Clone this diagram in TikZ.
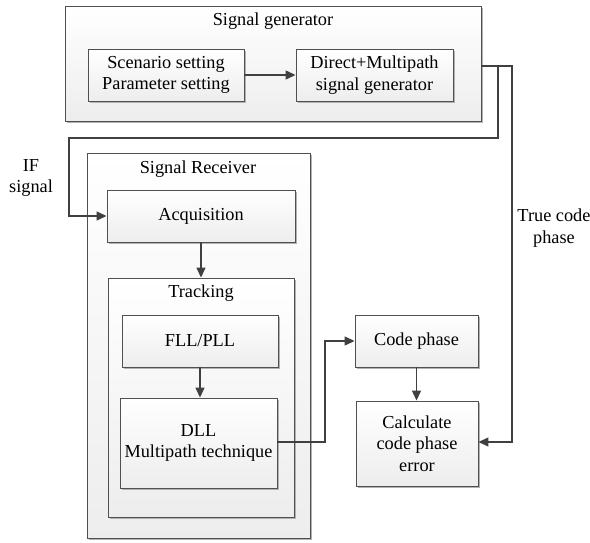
\documentclass[tikz,border=0pt]{standalone}
\usepackage{fontspec}
\setmainfont{Liberation Serif}
\usetikzlibrary{arrows.meta,shadows}
\definecolor{edge}{HTML}{505050}
\definecolor{wire}{HTML}{404040}
\tikzset{
  box/.style={draw=edge, line width=0.9pt, top color=white, bottom color=black!7,
    drop shadow={shadow xshift=2.2pt, shadow yshift=-2.2pt, fill=black!30, opacity=1},
    inner sep=0pt, align=center, font=\fontsize{18.3}{21.6}\selectfont},
  lbl/.style={align=center, font=\fontsize{18.3}{21.6}\selectfont, inner sep=0pt},
  wireline/.style={draw=wire, line width=1.3pt},
  arr/.style={wireline, -{Triangle[length=10pt,width=9pt]}},
}
\begin{document}
\begin{tikzpicture}[x=1pt,y=-1pt]
\useasboundingbox (0,0) rectangle (590,542);
% Signal generator group
\node[box, minimum width=416pt, minimum height=115pt] (gen) at (273,63.5) {};
\node[lbl] (gentitle) at (273,21) {Signal generator};
\node[box, minimum width=156pt, minimum height=52pt] (scen) at (166,75) {Scenario setting\\Parameter setting};
\node[box, minimum width=157pt, minimum height=52pt] (direct) at (374.5,75) {Direct+Multipath\\signal generator};
% Receiver group
\node[box, minimum width=223pt, minimum height=385pt] (recv) at (198.5,345.5) {};
\node[lbl] (recvtitle) at (198,169) {Signal Receiver};
\node[box, minimum width=188pt, minimum height=52pt] (acq) at (201,216) {Acquisition};
\node[box, minimum width=186pt, minimum height=239pt] (track) at (201,397.5) {};
\node[lbl] (tracktitle) at (201,293) {Tracking};
\node[box, minimum width=156pt, minimum height=52pt] (fll) at (200,341) {FLL/PLL};
\node[box, minimum width=157pt, minimum height=90pt] (dll) at (198.5,443) {DLL\\Multipath technique};
% Right side
\node[box, minimum width=123pt, minimum height=52pt] (code) at (416.5,341) {Code phase};
\node[box, minimum width=122pt, minimum height=85pt] (calc) at (417,443.5) {Calculate\\code phase\\error};
% Labels
\node[lbl] (iflbl) at (31,178) {IF\\signal};
\node[lbl] (truelbl) at (554,228) {True code\\phase};
% Coordinates
\coordinate (gout) at (gen.east |- 0,66);
% Connectors
\draw[arr] (scen.east) -- (direct.west);
\draw[arr] (gout) -- (498,66) -- (498,138) -- (69,138) -- (69,216) -- (acq.west);
\draw[arr] (gout) -- (512,66) -- (512,442) -- (calc.east |- 0,442);
\draw[arr] (acq.south) -- (track.north -| acq.south);
\draw[arr] (fll.south) -- (dll.north -| fll.south);
\draw[arr] (dll.east |- 0,442) -- (325,442) -- (325,341) -- (code.west);
\draw[arr] (code.south) -- (calc.north -| code.south);
\end{tikzpicture}
\end{document}
